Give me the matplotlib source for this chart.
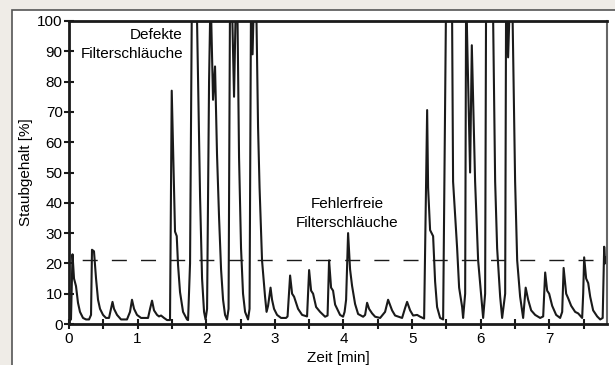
import matplotlib
matplotlib.use('Agg')
import matplotlib.pyplot as plt
from matplotlib.patches import Rectangle
from matplotlib.ticker import MultipleLocator

plt.rcParams['font.family'] = ['Liberation Sans', 'DejaVu Sans']

zeit = [0.000, 0.029, 0.051, 0.073, 0.102, 0.131, 0.160, 0.204, 0.248, 0.292,
        0.321, 0.335, 0.364, 0.394, 0.423, 0.452, 0.496, 0.539, 0.583, 0.612,
        0.634, 0.656, 0.700, 0.758, 0.845, 0.889, 0.918, 0.948, 0.991, 1.050,
        1.152, 1.181, 1.210, 1.239, 1.283, 1.312, 1.341, 1.385, 1.429, 1.472,
        1.497, 1.545, 1.570, 1.589, 1.618, 1.662, 1.720, 1.735, 1.764, 1.793,
        1.829, 1.866, 1.910, 1.939, 1.968, 1.990, 2.012, 2.041, 2.063, 2.099,
        2.128, 2.157, 2.187, 2.216, 2.245, 2.274, 2.303, 2.325, 2.347, 2.376,
        2.405, 2.434, 2.456, 2.478, 2.507, 2.536, 2.566, 2.609, 2.631, 2.653,
        2.675, 2.697, 2.726, 2.755, 2.777, 2.813, 2.857, 2.879, 2.901, 2.937,
        2.959, 2.988, 3.032, 3.090, 3.163, 3.185, 3.222, 3.251, 3.280, 3.309,
        3.338, 3.397, 3.469, 3.499, 3.528, 3.557, 3.601, 3.659, 3.732, 3.768,
        3.790, 3.819, 3.848, 3.878, 3.950, 3.994, 4.016, 4.038, 4.067, 4.096,
        4.125, 4.169, 4.213, 4.286, 4.315, 4.344, 4.373, 4.417, 4.461, 4.534,
        4.606, 4.650, 4.708, 4.752, 4.854, 4.898, 4.927, 4.971, 5.015, 5.073,
        5.117, 5.175, 5.219, 5.233, 5.262, 5.306, 5.335, 5.364, 5.408, 5.452,
        5.496, 5.539, 5.583, 5.597, 5.656, 5.685, 5.729, 5.743, 5.773, 5.787,
        5.845, 5.870, 5.918, 5.962, 6.020, 6.035, 6.064, 6.079, 6.137, 6.181,
        6.210, 6.239, 6.283, 6.312, 6.356, 6.370, 6.399, 6.429, 6.465, 6.501,
        6.531, 6.574, 6.618, 6.655, 6.691, 6.735, 6.793, 6.866, 6.910, 6.939,
        6.968, 6.997, 7.041, 7.099, 7.157, 7.187, 7.208, 7.245, 7.274, 7.318,
        7.347, 7.376, 7.420, 7.478, 7.493, 7.507, 7.536, 7.566, 7.595, 7.638,
        7.697, 7.741, 7.777, 7.799, 7.813, 7.828]
staub = [1.0, 1.5, 23.0, 15.0, 12.5, 7.0, 4.0, 2.0, 1.5, 1.5,
         3.0, 24.5, 24.0, 15.0, 8.0, 5.0, 3.0, 2.0, 2.0, 5.0,
         7.3, 5.0, 3.0, 1.5, 1.5, 4.0, 8.0, 5.0, 3.0, 2.0,
         2.0, 5.0, 7.7, 4.5, 3.0, 2.5, 2.8, 2.0, 1.3, 1.3,
         77.0, 30.5, 29.0, 19.5, 10.5, 4.0, 1.5, 1.3, 20.0, 115.0,
         125.0, 100.0, 42.0, 15.0, 4.0, 1.5, 5.0, 80.0, 110.0, 74.0,
         85.0, 56.0, 35.0, 18.0, 8.0, 3.0, 1.5, 5.0, 110.0, 105.0,
         75.0, 110.0, 100.0, 55.0, 25.0, 10.0, 4.0, 1.5, 5.0, 110.0,
         89.0, 110.0, 110.0, 65.0, 45.0, 21.0, 9.0, 4.0, 6.0, 12.0,
         8.0, 5.0, 3.0, 2.0, 2.0, 2.5, 16.0, 10.0, 9.0, 7.0,
         5.0, 3.0, 2.5, 17.8, 11.0, 10.0, 5.6, 4.0, 2.4, 2.8,
         21.0, 12.0, 11.0, 6.4, 3.0, 2.4, 4.0, 8.0, 30.0, 18.0,
         12.6, 6.6, 3.3, 2.4, 3.0, 7.0, 5.0, 3.5, 2.4, 2.0,
         4.0, 8.0, 4.5, 2.8, 2.0, 5.3, 7.3, 4.5, 2.8, 3.0,
         2.4, 1.8, 70.6, 45.0, 31.0, 29.0, 14.0, 5.6, 2.0, 1.5,
         110.0, 130.0, 100.0, 47.0, 25.0, 12.0, 5.6, 2.0, 10.0, 110.0,
         50.0, 92.0, 47.0, 21.0, 6.0, 2.0, 10.0, 115.0, 130.0, 100.0,
         47.0, 25.0, 9.0, 2.0, 10.0, 110.0, 88.0, 110.0, 100.0, 47.0,
         21.0, 9.0, 2.0, 12.0, 8.0, 4.5, 3.0, 2.0, 2.5, 17.0,
         11.0, 10.0, 6.0, 3.0, 2.0, 4.0, 18.5, 10.0, 8.5, 6.0,
         5.0, 4.0, 3.5, 2.0, 10.0, 22.0, 15.0, 13.5, 9.0, 4.5,
         2.5, 1.5, 2.0, 25.5, 20.0, 22.0]
grenzwert = 21

fig = plt.figure(figsize=(6.15, 3.65), dpi=100, facecolor='#efece7')
rahmen = Rectangle((12/615, -0.05), 1.0, 1 - 10/365 + 0.05,
                   transform=fig.transFigure, facecolor='white',
                   edgecolor='#555555', lw=1.2, zorder=-10)
fig.patches.append(rahmen)

ax = fig.add_axes([69/615, 1 - 324/365, 538/615, 303/365])
ax.set_zorder(5)
ax.plot(zeit, staub, color='#1a1a1a', lw=1.5)
ax.axhline(grenzwert, color='#1a1a1a', lw=1, linestyle=(11.5, (10.8, 10.2)))

ax.set_xlim(0, 7.84)
ax.set_ylim(0, 100)
ax.xaxis.set_major_locator(MultipleLocator(1))
ax.xaxis.set_minor_locator(MultipleLocator(0.5))
ax.yaxis.set_major_locator(MultipleLocator(10))
ax.tick_params(which='both', direction='inout', length=7, width=1.5,
               labelsize=11, pad=2, color='#1a1a1a')
ax.tick_params(axis='y', pad=1)

for s in ['left', 'bottom', 'top']:
    ax.spines[s].set_linewidth(2)
    ax.spines[s].set_color('#1a1a1a')
ax.spines['right'].set_linewidth(1.5)
ax.spines['right'].set_color('#666666')

ax.set_xlabel('Zeit [min]', fontsize=11, labelpad=4)
ax.set_ylabel('Staubgehalt [%]', fontsize=11, labelpad=3)

# Beschriftungen
ax.text(1.66, 94.1, 'Defekte', ha='right', va='baseline', fontsize=11)
ax.text(1.66, 87.8, 'Filterschläuche', ha='right', va='baseline', fontsize=11)
ax.text(4.05, 38.3, 'Fehlerfreie', ha='center', va='baseline', fontsize=11)
ax.text(4.05, 32.0, 'Filterschläuche', ha='center', va='baseline', fontsize=11)

plt.savefig('out.png', dpi=100, facecolor=fig.get_facecolor())
